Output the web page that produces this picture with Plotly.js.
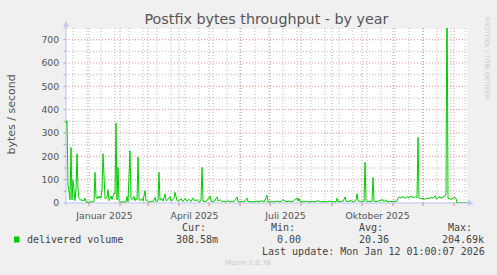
<!DOCTYPE html>
<html><head><meta charset="utf-8">
<script src="https://cdn.plot.ly/plotly-3.0.1.min.js"></script>
<style>html,body{margin:0;padding:0;background:#F0F0F0;}#chart{width:497px;height:275px;}</style>
</head><body><div id="chart"></div>
<script>
const dates = [
"2024-12-09","2024-12-10","2024-12-11","2024-12-12","2024-12-13","2024-12-14","2024-12-15","2024-12-16","2024-12-17","2024-12-18",
"2024-12-19","2024-12-20","2024-12-21","2024-12-22","2024-12-23","2024-12-25","2024-12-27","2024-12-28","2024-12-29","2024-12-31",
"2025-01-02","2025-01-04","2025-01-06","2025-01-07","2025-01-08","2025-01-09","2025-01-10","2025-01-11","2025-01-12","2025-01-13",
"2025-01-14","2025-01-15","2025-01-16","2025-01-17","2025-01-18","2025-01-19","2025-01-20","2025-01-21","2025-01-22","2025-01-23",
"2025-01-24","2025-01-25","2025-01-26","2025-01-27","2025-01-28","2025-01-29","2025-01-30","2025-01-31","2025-02-01","2025-02-04",
"2025-02-07","2025-02-08","2025-02-09","2025-02-11","2025-02-12","2025-02-13","2025-02-14","2025-02-15","2025-02-16","2025-02-17",
"2025-02-18","2025-02-19","2025-02-20","2025-02-21","2025-02-23","2025-02-24","2025-02-26","2025-02-27","2025-03-01","2025-03-03",
"2025-03-05","2025-03-06","2025-03-08","2025-03-09","2025-03-11","2025-03-12","2025-03-13","2025-03-15","2025-03-16","2025-03-18",
"2025-03-19","2025-03-21","2025-03-23","2025-03-24","2025-03-26","2025-03-27","2025-03-28","2025-03-29","2025-03-30","2025-04-01",
"2025-04-03","2025-04-05","2025-04-07","2025-04-09","2025-04-11","2025-04-13","2025-04-15","2025-04-17","2025-04-19","2025-04-21",
"2025-04-23","2025-04-24","2025-04-25","2025-04-27","2025-04-29","2025-05-02","2025-05-03","2025-05-05","2025-05-07","2025-05-09",
"2025-05-10","2025-05-12","2025-05-14","2025-05-16","2025-05-18","2025-05-20","2025-05-22","2025-05-24","2025-05-26","2025-05-29",
"2025-05-30","2025-06-01","2025-06-03","2025-06-05","2025-06-08","2025-06-09","2025-06-11","2025-06-14","2025-06-17","2025-06-20",
"2025-06-23","2025-06-25","2025-06-28","2025-06-29","2025-07-02","2025-07-05","2025-07-08","2025-07-11","2025-07-14","2025-07-17",
"2025-07-20","2025-07-23","2025-07-28","2025-07-29","2025-07-30","2025-07-31","2025-08-03","2025-08-06","2025-08-09","2025-08-12",
"2025-08-15","2025-08-18","2025-08-21","2025-08-24","2025-08-27","2025-08-30","2025-09-02","2025-09-05","2025-09-06","2025-09-07",
"2025-09-10","2025-09-12","2025-09-14","2025-09-15","2025-09-17","2025-09-20","2025-09-23","2025-09-25","2025-09-26","2025-09-27",
"2025-09-29","2025-10-01","2025-10-03","2025-10-04","2025-10-05","2025-10-07","2025-10-09","2025-10-11","2025-10-12","2025-10-13",
"2025-10-15","2025-10-17","2025-10-19","2025-10-22","2025-10-23","2025-10-25","2025-10-26","2025-10-29","2025-11-01","2025-11-03",
"2025-11-05","2025-11-06","2025-11-07","2025-11-09","2025-11-11","2025-11-13","2025-11-15","2025-11-17","2025-11-19","2025-11-21",
"2025-11-23","2025-11-25","2025-11-26","2025-11-27","2025-11-29","2025-12-01","2025-12-03","2025-12-05","2025-12-07","2025-12-09",
"2025-12-11","2025-12-13","2025-12-14","2025-12-16","2025-12-18","2025-12-19","2025-12-21","2025-12-23","2025-12-24","2025-12-25",
"2025-12-26","2025-12-27","2025-12-29","2025-12-31","2026-01-02","2026-01-03","2026-01-04","2026-01-14"
];
const volume = [
340,353,80,28,14,238,14,98,30,10,
60,211,57,20,14,12,10,21,5,3,
4,3,6,131,25,18,28,20,30,22,
60,211,140,20,18,25,57,10,18,30,
15,35,43,40,343,14,153,10,4,5,
4,28,6,224,20,14,25,28,10,20,
14,197,18,10,20,8,53,12,6,4,
8,5,24,6,10,131,12,20,8,39,
10,15,28,8,14,20,46,30,10,8,
18,6,20,8,16,6,22,8,14,5,
10,153,8,6,10,31,8,6,12,26,
8,14,6,8,4,10,5,8,6,26,
6,5,8,4,21,5,7,4,8,5,
10,4,33,4,6,4,8,5,14,6,
8,5,21,8,20,6,5,8,4,7,
5,10,4,7,5,8,6,4,21,5,
8,6,26,8,6,10,5,12,40,10,
6,8,5,174,10,6,8,5,109,8,
5,7,12,14,5,14,5,6,5,7,
8,21,26,22,28,20,27,22,30,24,
26,24,281,22,18,20,16,22,18,24,
20,31,18,22,28,20,24,30,40,1000,
20,18,16,20,24,20,0,0
];
const tickDates = ["2025-01-16 12:00","2025-04-16 12:00","2025-07-16 12:00","2025-10-16 12:00"];
const tickLabels = ["Januar 2025","April 2025","Juli 2025","Oktober 2025"];
const yTicks = [0,100,200,300,400,500,600,700];
const yTickLabels = ["0","100","200","300","400","500","600","700"];
const monthStarts = ["2025-01-01","2025-02-01","2025-03-01","2025-04-01","2025-05-01","2025-06-01","2025-07-01","2025-08-01","2025-09-01","2025-10-01","2025-11-01","2025-12-01","2026-01-01"];
const seriesName = "delivered volume";
const statHeads = ["Cur:","Min:","Avg:","Max:"];
const statVals = ["308.58m","0.00","20.36","204.69k"];
const lastUpdate = "Last update: Mon Jan 12 01:00:07 2026";

const L = 66, W = 401, T = 28, H = 175;
const PX = p => (p - L) / W;
const PY = p => (T + H - p) / H;

const shapes = [];
shapes.push({type:'rect', xref:'paper', yref:'paper', x0:0, x1:1, y0:0, y1:1, fillcolor:'#FFFFFF', line:{width:0}, layer:'below'});
const minorC = 'rgba(140,140,140,0.6)';
const majorC = 'rgba(225,100,100,0.7)';
const start = new Date(Date.UTC(2024,11,16));
for (let i = 0; i < 30; i++) {
  const d = new Date(start.getTime() + i*14*86400000);
  if (d > new Date(Date.UTC(2026,0,14))) break;
  const s = d.toISOString().slice(0,10);
  shapes.push({type:'line', xref:'x', yref:'paper', x0:s, x1:s, y0:0, y1:1, line:{color:minorC, width:1, dash:'1px,2px'}, layer:'below'});
}
for (let v = 50; v <= 750; v += 100) {
  shapes.push({type:'line', xref:'paper', yref:'y', x0:0, x1:1, y0:v, y1:v, line:{color:minorC, width:1, dash:'1px,2px'}, layer:'below'});
}
monthStarts.forEach(s => {
  shapes.push({type:'line', xref:'x', yref:'paper', x0:s, x1:s, y0:0, y1:1, line:{color:majorC, width:1, dash:'1px,2px'}, layer:'below'});
  shapes.push({type:'line', xref:'x', yref:'paper', x0:s, x1:s, y0:PY(203), y1:PY(206), line:{color:'rgba(225,90,90,0.8)', width:1}, layer:'below'});
});
for (let v = 100; v <= 700; v += 100) {
  shapes.push({type:'line', xref:'paper', yref:'y', x0:0, x1:1, y0:v, y1:v, line:{color:majorC, width:1, dash:'1px,2px'}, layer:'below'});
}
for (let v = 0; v <= 750; v += 50) {
  shapes.push({type:'line', xref:'paper', yref:'y', x0:PX(63.5), x1:PX(66), y0:v, y1:v, line:{color:'rgba(150,150,150,0.8)', width:1}, layer:'below'});
}
const axc = '#BCC4F2';
shapes.push({type:'line', xref:'paper', yref:'paper', x0:PX(64), x1:PX(469), y0:PY(203), y1:PY(203), line:{color:axc, width:1}, layer:'below'});
shapes.push({type:'line', xref:'paper', yref:'paper', x0:PX(66), x1:PX(66), y0:PY(205), y1:PY(25), line:{color:axc, width:1}, layer:'below'});
shapes.push({type:'path', xref:'paper', yref:'paper',
  path:`M ${PX(468)} ${PY(200.5)} L ${PX(473)} ${PY(203)} L ${PX(468)} ${PY(205.5)} Z`, fillcolor:axc, line:{color:axc, width:0.5}});
shapes.push({type:'path', xref:'paper', yref:'paper',
  path:`M ${PX(63.5)} ${PY(26.5)} L ${PX(66)} ${PY(21.5)} L ${PX(68.5)} ${PY(26.5)} Z`, fillcolor:axc, line:{color:axc, width:0.5}});
shapes.push({type:'rect', xref:'paper', yref:'paper', x0:PX(14), x1:PX(19.5), y0:PY(242.5), y1:PY(236.5), fillcolor:'#00CC00', line:{width:0}});

const mono = 'DejaVu Sans Mono, monospace';
const sans = 'DejaVu Sans, sans-serif';
const ann = [];
const txt = (text, x, y, opts={}) => ann.push(Object.assign({text, xref:'paper', yref:'paper', x:PX(x), y:PY(y),
  xanchor:'left', yanchor:'middle', showarrow:false, borderpad:0,
  font:{family:mono, size:10, color:'#444'}}, opts));
txt(seriesName, 25.5, 239.5);
const headX = [181, 270, 358, 447];
const valX = [175, 276, 358, 441];
statHeads.forEach((h,i) => txt(h, headX[i], 227.5));
statVals.forEach((v,i) => txt(v, valX[i], 239.5));
txt(lastUpdate, 261, 251.5);
txt('Munin 2.0.76', 248, 263, {xanchor:'center', font:{family:sans, size:7, color:'#C8C8C8'}});
txt('RRDTOOL / TOBI OETIKER', 487, 58, {xanchor:'center', textangle:90, font:{family:sans, size:6.4, color:'#C8C8C8'}});
txt('bytes / second', 10.5, 114, {xanchor:'center', textangle:-90, font:{family:sans, size:11, color:'#555'}});

const trace = {x:dates, y:volume, type:'scatter', mode:'lines', line:{color:'#00CC00', width:1}, hoverinfo:'skip', showlegend:false};

const layout = {
  width:497, height:275,
  margin:{l:L, r:497-L-W, t:T, b:275-T-H, pad:0},
  paper_bgcolor:'#F0F0F0', plot_bgcolor:'rgba(0,0,0,0)',
  title:{text:'Postfix bytes throughput - by year', font:{family:sans, size:14.3, color:'#555'}, x:0.5, xanchor:'center', xref:'paper', y:1-18.5/275, yanchor:'middle', yref:'container'},
  xaxis:{type:'date', range:['2024-12-09','2026-01-14'], showgrid:false, zeroline:false, showline:false,
    tickmode:'array', tickvals:tickDates, ticktext:tickLabels, ticks:'outside', ticklen:4, tickcolor:'rgba(0,0,0,0)',
    tickfont:{family:sans, size:9.3, color:'#555'}, fixedrange:true},
  yaxis:{range:[0,750], showgrid:false, zeroline:false, showline:false,
    tickmode:'array', tickvals:yTicks, ticktext:yTickLabels, ticks:'outside', ticklen:4, tickcolor:'rgba(0,0,0,0)',
    tickfont:{family:sans, size:9.3, color:'#555'}, fixedrange:true},
  shapes, annotations:ann, showlegend:false
};
Plotly.newPlot('chart', [trace], layout, {displayModeBar:false, staticPlot:true});
</script></body></html>
